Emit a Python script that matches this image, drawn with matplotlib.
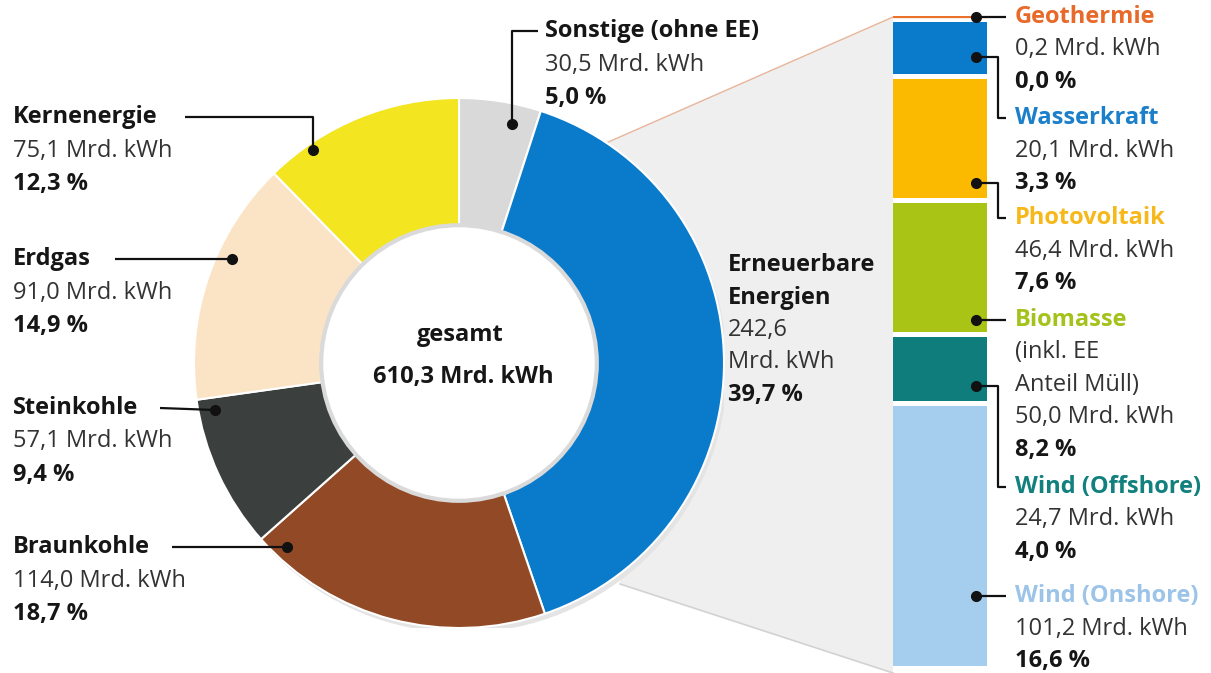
import matplotlib.pyplot as plt
from matplotlib.patches import Polygon, Circle

plt.rcParams['font.family'] = ['Open Sans', 'DejaVu Sans']

W, H = 1211, 673

# Stromerzeugung gesamt (im Uhrzeigersinn ab 12 Uhr)
segments = ['Sonstige (ohne EE)', 'Erneuerbare Energien', 'Braunkohle',
            'Steinkohle', 'Erdgas', 'Kernenergie']
values = [30.5, 242.6, 114.0, 57.1, 91.0, 75.1]
shares = ['5,0 %', '39,7 %', '18,7 %', '9,4 %', '14,9 %', '12,3 %']
colors = ['#d9d9d9', '#0a7bcb', '#924a26', '#3b403e', '#fbe4c6', '#f3e520']
total_label = '610,3 Mrd. kWh'

# Erneuerbare, von oben nach unten
ee_names = ['Geothermie', 'Wasserkraft', 'Photovoltaik', 'Biomasse',
            'Wind (Offshore)', 'Wind (Onshore)']
ee_values = [0.2, 20.1, 46.4, 50.0, 24.7, 101.2]
ee_shares = ['0,0 %', '3,3 %', '7,6 %', '8,2 %', '4,0 %', '16,6 %']
ee_colors = ['#e9712c', '#0a7bcb', '#fbb900', '#a9c414', '#0f7d7c', '#a5cdee']
ee_text_colors = ['#e86a2a', '#1b7fc9', '#f7b81b', '#a3c21a', '#11807e', '#9cc3e8']


def mrd(v):
    return f'{v:.1f}'.replace('.', ',') + ' Mrd. kWh'


fig = plt.figure(figsize=(W / 100, H / 100), dpi=100)

# background layer (fan)
ax_bg = fig.add_axes([0, 0, 1, 1], zorder=0)
ax_bg.set_xlim(0, W)
ax_bg.set_ylim(H, 0)
ax_bg.axis('off')
ax_bg.add_patch(Polygon([(606, 143), (893, 17), (893, 673), (620, 584)],
                        closed=True, fc='#efefef', ec='none'))
ax_bg.plot([606, 893], [143, 17], color='#e9b59a', lw=1)
ax_bg.plot([620, 893], [584, 673], color='#d2d2d2', lw=1.2)

# donut
cx, cy, r = 459, 363, 265
ax_pie = fig.add_axes([(cx - r) / W, (H - cy - r) / H, 2 * r / W, 2 * r / H], zorder=1)
ax_pie.add_patch(Circle((0.012, -0.018), 1.0, fc='#e4e4e4', ec='none', zorder=0))
ax_pie.pie(values, colors=colors, startangle=90, counterclock=False, radius=1,
           wedgeprops=dict(width=0.48, edgecolor='white', linewidth=1.5))
ax_pie.add_patch(Circle((0, 0), 0.52, fc='white', ec='#dadada', lw=3, zorder=3))
ax_pie.set_xlim(-1, 1)
ax_pie.set_ylim(-1, 1)
ax_pie.set_aspect('auto')
ax_pie.axis('off')

# stacked bar for renewables
gap = 2.0
bottoms = []
acc = 0
for v in ee_values:
    bottoms.append(acc)
    acc += v + gap
top_px = 16.3
scale = 2.574
ax_bar = fig.add_axes([893 / W, 0, 94 / W, (H - top_px) / H], zorder=1)
ax_bar.bar([0] * len(ee_values), ee_values, bottom=bottoms, width=1,
           color=ee_colors, edgecolor=ee_colors,
           linewidth=[0.9, 0, 0, 0, 0, 0], align='center')
ax_bar.set_xlim(-0.5, 0.5)
ax_bar.set_ylim((H - top_px) / scale, 0)
ax_bar.axis('off')

# foreground: connectors + text
ax = fig.add_axes([0, 0, 1, 1], zorder=2)
ax.set_xlim(0, W)
ax.set_ylim(H, 0)
ax.axis('off')
ax.patch.set_alpha(0)

FS = 17
STEP = 33.5
DARK = '#161616'
GREY = '#333333'


def block(x, y, lines, ha='left', step=STEP):
    for i, (t, bold, col) in enumerate(lines):
        ax.text(x, y + i * step, t, fontsize=FS, fontweight='bold' if bold else 'normal',
                color=col, ha=ha, va='center')


def connector(xs, ys):
    ax.plot(xs, ys, color='#111111', lw=1.6, solid_capstyle='butt')
    ax.plot(xs[-1], ys[-1], 'o', color='#111111', ms=7)


# left labels
left = {
    'Kernenergie': (117, [(185, 117), (313, 117), (313, 150)]),
    'Erdgas': (259, [(115, 259), (232, 259)]),
    'Steinkohle': (408, [(160, 408), (215, 410)]),
    'Braunkohle': (547, [(172, 547), (287, 547)]),
}
for name, (y, pts) in left.items():
    i = segments.index(name)
    block(13, y, [(name, True, DARK), (mrd(values[i]), False, GREY), (shares[i], True, DARK)])
    connector([p[0] for p in pts], [p[1] for p in pts])

# Sonstige
block(545, 31, [(segments[0], True, DARK), (mrd(values[0]), False, GREY), (shares[0], True, DARK)])
connector([538, 512, 512], [31, 31, 124])

# Erneuerbare
block(728, 265, [('Erneuerbare', True, DARK), ('Energien', True, DARK),
                 (f'{values[1]:.1f}'.replace('.', ','), False, GREY),
                 ('Mrd. kWh', False, GREY), (shares[1], True, DARK)], step=32.5)

# centre
ax.text(460, 335, 'gesamt', fontsize=FS, fontweight='bold', color=DARK, ha='center', va='center')
ax.text(463, 377, total_label, fontsize=FS, fontweight='bold', color=DARK, ha='center', va='center')

# right labels
right_y = [17, 118, 218, 320, 487, 596]
dots = [
    ([1006, 976], [17, 17]),
    ([1006, 998, 998, 976], [118, 118, 57, 57]),
    ([1006, 998, 998, 976], [218, 218, 183, 183]),
    ([1006, 976], [320, 320]),
    ([1006, 998, 998, 976], [487, 487, 386, 386]),
    ([1006, 976], [596, 596]),
]
for k, name in enumerate(ee_names):
    lines = [(name, True, ee_text_colors[k])]
    if name == 'Biomasse':
        lines += [('(inkl. EE', False, GREY), ('Anteil Müll)', False, GREY)]
    lines += [(mrd(ee_values[k]), False, GREY), (ee_shares[k], True, DARK)]
    block(1015, right_y[k], lines, step=32.5)
    connector(dots[k][0], dots[k][1])

fig.savefig('out.png', dpi=100, facecolor='white')
